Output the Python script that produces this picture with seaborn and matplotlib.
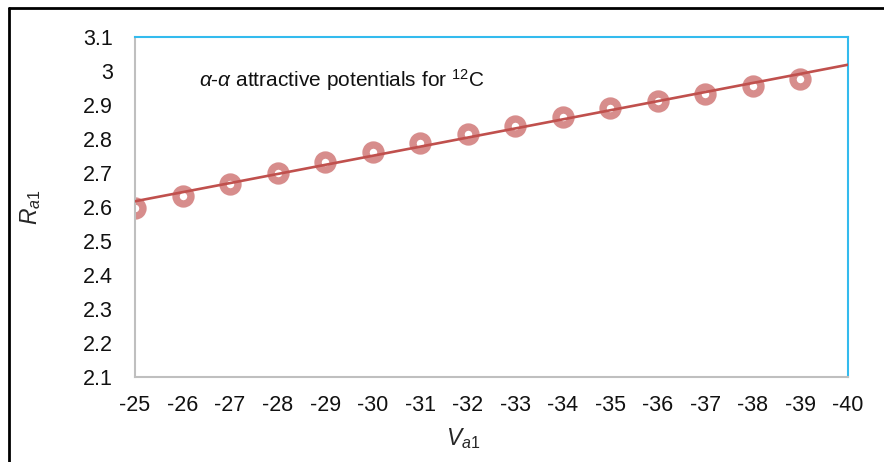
import numpy as np
import matplotlib.pyplot as plt
from matplotlib.lines import Line2D
import seaborn as sns

# ---------------- veri ----------------
V_a1 = [-25, -26, -27, -28, -29, -30, -31, -32, -33, -34, -35, -36, -37, -38, -39]
R_a1 = [2.597, 2.632, 2.668, 2.700, 2.732, 2.762, 2.788, 2.815, 2.838, 2.865,
        2.891, 2.912, 2.932, 2.956, 2.976]

x_ticks = [-25, -26, -27, -28, -29, -30, -31, -32, -33, -34, -35, -36, -37, -38, -39, -40]
y_ticks = [2.1, 2.2, 2.3, 2.4, 2.5, 2.6, 2.7, 2.8, 2.9, 3.0, 3.1]
y_tick_labels = ['2.1', '2.2', '2.3', '2.4', '2.5', '2.6', '2.7', '2.8', '2.9', '3', '3.1']

sns.set_theme(style='white')
plt.rcParams['font.family'] = ['Liberation Sans', 'DejaVu Sans']
plt.rcParams['mathtext.fontset'] = 'custom'
plt.rcParams['mathtext.rm'] = 'Liberation Sans'
plt.rcParams['mathtext.it'] = 'Liberation Sans:italic'

fig = plt.figure(figsize=(8.84, 4.62), dpi=100)
ax = fig.add_axes([0.1527, 0.184, 0.8066, 0.7359])

ax.set_xlim(-25, -40)
ax.set_ylim(2.1, 3.1)

# trend cizgisi eksen sinirlarina kadar uzasin diye truncate=False
sns.regplot(x=V_a1, y=R_a1, ax=ax, ci=None, truncate=False,
            scatter_kws=dict(s=116, facecolors='white', edgecolors='#D78D8C',
                             linewidths=5.3, alpha=1, zorder=2),
            line_kws=dict(color='#C0504D', lw=1.9, zorder=3))

ax.set_xlim(-25, -40)
ax.set_ylim(2.1, 3.1)
ax.set_xticks(x_ticks)
ax.set_xticklabels([str(v) for v in x_ticks])
ax.set_yticks(y_ticks)
ax.set_yticklabels(y_tick_labels)
ax.tick_params(axis='both', length=0, labelsize=15.5, colors='#111111')
ax.tick_params(axis='x', pad=13)
ax.tick_params(axis='y', pad=16)

ax.spines['left'].set_color('#BFBFBF')
ax.spines['bottom'].set_color('#BFBFBF')
ax.spines['top'].set_color('#33BBEE')
ax.spines['right'].set_color('#33BBEE')
for s in ax.spines.values():
    s.set_linewidth(1.5)

ax.set_ylabel(r'$R_{a1}$', fontsize=16.5, va='center')
ax.yaxis.set_label_coords(-0.147, 0.5)
ax.set_xlabel(r'$V_{a1}$', fontsize=16.5)
ax.xaxis.set_label_coords(0.46, -0.145)

ax.text(0.0898, 0.8735, r'$\alpha$-$\alpha$ attractive potentials for $^{12}$C',
        transform=ax.transAxes, ha='left', va='center', fontsize=15, color='#111111')

# resmin cevresindeki siyah cerceve (ust ve sol)
fig.add_artist(Line2D([0.0102, 1.0], [0.9827, 0.9827], transform=fig.transFigure, color='black', lw=2))
fig.add_artist(Line2D([0.0102, 0.0102], [0.0, 0.9827], transform=fig.transFigure, color='black', lw=2))

fig.savefig('out.png', dpi=100)
